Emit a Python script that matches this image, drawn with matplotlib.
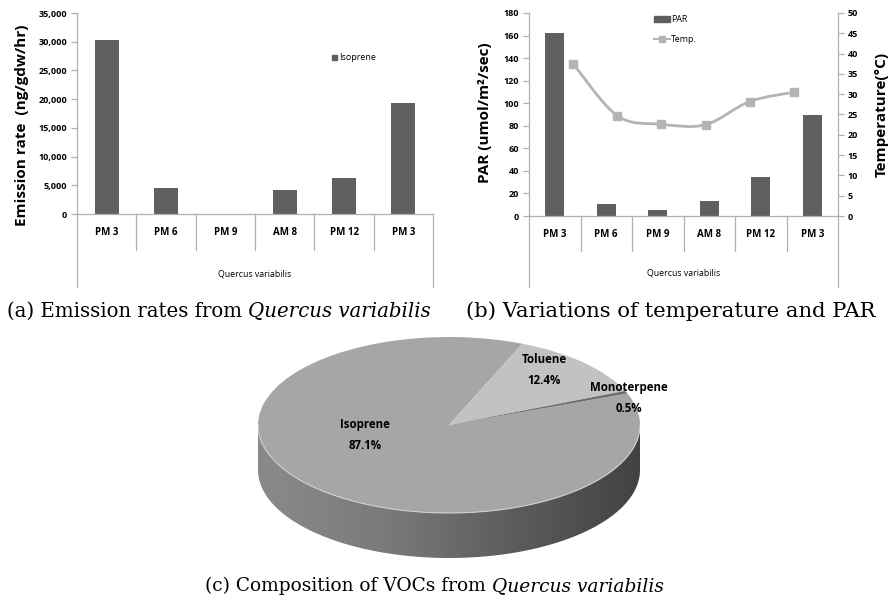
import matplotlib
matplotlib.use("Agg")
import matplotlib.pyplot as plt
import numpy as np
from matplotlib.path import Path
from matplotlib.patches import PathPatch, Polygon, Patch
from matplotlib.lines import Line2D
from matplotlib.ticker import FuncFormatter
from matplotlib.colors import LinearSegmentedColormap
from matplotlib.transforms import blended_transform_factory

# data
times = ["PM 3", "PM 6", "PM 9", "AM 8", "PM 12", "PM 3"]
isoprene = [30300, 4500, 0, 4100, 6200, 19400]
par = [162, 11, 5, 13, 35, 90]
temp = [37.5, 24.7, 22.6, 22.5, 28.2, 30.5]
voc_names = ["Isoprene", "Toluene", "Monoterpene"]
voc_share = [87.1, 12.4, 0.5]
species = "Quercus variabilis"

W, H = 892, 601
BAR = "#5f5f5f"
AXC = "#b0b0b0"
TEMPC = "#b4b4b4"
SANS = ["Open Sans", "DejaVu Sans"]
SERIF = ["DejaVu Serif"]

fig = plt.figure(figsize=(W / 100, H / 100), dpi=100)
bg = fig.add_axes([0, 0, 1, 1])
bg.axis("off")


def rect(x0, y0, x1, y1):
    return [x0 / W, 1 - y1 / H, (x1 - x0) / W, (y1 - y0) / H]


def style_axis(ax):
    for s in ["top", "right"]:
        ax.spines[s].set_visible(False)
    for s in ["left", "bottom"]:
        ax.spines[s].set_color(AXC)
        ax.spines[s].set_linewidth(0.9)
    ax.tick_params(axis="y", length=4, width=0.9, color=AXC, labelsize=6.5, pad=3)
    for lbl in ax.get_yticklabels():
        lbl.set_fontweight("bold")
        lbl.set_family(SANS)
    ax.set_xticks([])
    ax.set_xlim(-0.5, len(times) - 0.5)


def category_axis(ax, d_inner, d_outer, y_lab, y_sp):
    tr = blended_transform_factory(ax.transData, ax.transAxes)
    n = len(times)
    for i in range(n + 1):
        b = i - 0.5
        d = d_outer if i in (0, n) else d_inner
        ax.plot([b, b], [0, d], transform=tr, color=AXC, lw=0.9, clip_on=False)
    for i, t in enumerate(times):
        ax.text(i, y_lab, t, transform=tr, ha="center", va="center",
                fontsize=7, fontweight="bold", family=SANS)
    ax.text((n - 1) / 2, y_sp, species, transform=tr, ha="center", va="center",
            fontsize=6.3, family=SANS)


def smooth_path(xs, ys):
    pts = np.column_stack([xs, ys]).astype(float)
    n = len(pts)
    verts = [pts[0]]
    codes = [Path.MOVETO]
    for i in range(n - 1):
        p0, p1 = pts[max(i - 1, 0)], pts[i]
        p2, p3 = pts[i + 1], pts[min(i + 2, n - 1)]
        verts += [p1 + (p2 - p0) / 6, p2 - (p3 - p1) / 6, p2]
        codes += [Path.CURVE4] * 3
    return Path(verts, codes)


# ---- (a) emission rates
axa = fig.add_axes(rect(77, 13, 433, 214))
x = np.arange(len(times))
axa.bar(x, isoprene, width=0.4, color=BAR, label="Isoprene")
axa.set_ylim(0, 35000)
axa.set_yticks(np.arange(0, 35001, 5000))
axa.yaxis.set_major_formatter(FuncFormatter(lambda v, p: f"{v:,.0f}"))
style_axis(axa)
category_axis(axa, -36 / 201, -73 / 201, -0.09, -0.30)
fig.text(22 / W, 1 - 125 / H, "Emission rate  (ng/gdw/hr)", rotation=90,
         ha="center", va="center", fontsize=11, fontweight="bold", family=SANS)
axa.legend(handles=[Patch(color=BAR)], labels=["Isoprene"], loc="center left",
           bbox_to_anchor=(332 / W, 1 - 58 / H), bbox_transform=fig.transFigure,
           frameon=False, handlelength=0.55, handleheight=0.55,
           handletextpad=0.2, borderpad=0, borderaxespad=0,
           prop={"family": SANS, "size": 6.5})

# ---- (b) PAR and temperature
rb = rect(529, 13, 838, 216)
axb = fig.add_axes(rb)
axb.bar(x, par, width=0.36, color=BAR)
axb.set_ylim(0, 180)
axb.set_yticks(np.arange(0, 181, 20))
style_axis(axb)
category_axis(axb, -35 / 203, -71 / 203, -0.09, -0.282)

axt = fig.add_axes(rb, facecolor="none")
axt.set_xlim(-1, len(times))
axt.set_ylim(0, 50)
axt.set_yticks(np.arange(0, 51, 5))
axt.add_patch(PathPatch(smooth_path(np.arange(len(temp)), temp), facecolor="none",
                        edgecolor=TEMPC, lw=2))
axt.plot(np.arange(len(temp)), temp, ls="none", marker="s", ms=6, color=TEMPC)
axt.yaxis.tick_right()
for s in ["top", "left", "bottom"]:
    axt.spines[s].set_visible(False)
axt.spines["right"].set_color(AXC)
axt.spines["right"].set_linewidth(0.9)
axt.set_xticks([])
axt.tick_params(axis="y", length=4, width=0.9, color=AXC, labelsize=6.5, pad=3)
for lbl in axt.get_yticklabels():
    lbl.set_fontweight("bold")
    lbl.set_family(SANS)

fig.text(485 / W, 1 - 113 / H, "PAR (umol/m²/sec)", rotation=90, ha="center",
         va="center", fontsize=11, fontweight="bold", family=SANS)
fig.text(882 / W, 1 - 114 / H, "Temperature(°C)", rotation=90, ha="center",
         va="center", fontsize=11, fontweight="bold", family=SANS)
axt.legend(handles=[Patch(color=BAR), Line2D([], [], color=TEMPC, lw=1.5, marker="s", ms=4)],
           labels=["PAR", "Temp."], loc="upper left",
           bbox_to_anchor=(654 / W, 1 - 15 / H), bbox_transform=fig.transFigure,
           frameon=False, handlelength=1.8, handleheight=0.55, handletextpad=0.1,
           labelspacing=1.2, borderpad=0, borderaxespad=0,
           prop={"family": SANS, "size": 6.3})

# ---- (c) pie
axp = fig.add_axes(rect(258, 337, 640, 558))
depth = 45 / 88
t = np.linspace(np.pi, 2 * np.pi, 300)
side = np.concatenate([np.column_stack([np.cos(t), np.sin(t)]),
                       np.column_stack([np.cos(t[::-1]), np.sin(t[::-1]) - depth])])
poly = Polygon(side, closed=True, facecolor="none", edgecolor="none")
axp.add_patch(poly)
cmap = LinearSegmentedColormap.from_list("side", ["#8a8a8a", "#7a7a7a", "#5c5c5c", "#424242"])
im = axp.imshow(np.linspace(0, 1, 256)[None, :], extent=(-1, 1, -1 - depth, 0),
                aspect="auto", cmap=cmap, zorder=0)
im.set_clip_path(poly)
axp.pie(voc_share, colors=["#a6a6a6", "#c2c2c2", "#6e6e6e"], startangle=21,
        counterclock=False, wedgeprops=dict(linewidth=0))
axp.plot(np.cos(t), np.sin(t), color="#cfcfcf", lw=0.8)
axp.set_aspect("auto")
axp.set_xlim(-1, 1)
axp.set_ylim(-1 - depth, 1)
axp.axis("off")
lab_pos = [(-0.44, -0.11), (0.50, 0.62), (0.94, 0.31)]
for name, v, (lx, ly) in zip(voc_names, voc_share, lab_pos):
    axp.text(lx, ly, f"{name}\n{v:.1f}%", ha="center", va="center", fontsize=8.3,
             fontweight="bold", family=SANS, linespacing=1.8)


# ---- captions
def caption(x0, y0, parts, size=14):
    prev = bg.text(x0 / W, 1 - y0 / H, parts[0][0], fontsize=size, family=SERIF,
                   style=parts[0][1], va="bottom", ha="left")
    for s, st in parts[1:]:
        prev = bg.annotate(s, xy=(1, 0), xycoords=prev, fontsize=size, family=SERIF,
                           style=st, va="bottom", ha="left")


caption(7, 321, [("(a) Emission rates from ", "normal"), (species, "italic")], size=14.2)
caption(466, 321, [("(b) Variations of temperature and PAR", "normal")], size=15.2)
caption(205, 595, [("(c) Composition of VOCs from ", "normal"), (species, "italic")], size=13.4)

fig.savefig("out.png", dpi=100)
